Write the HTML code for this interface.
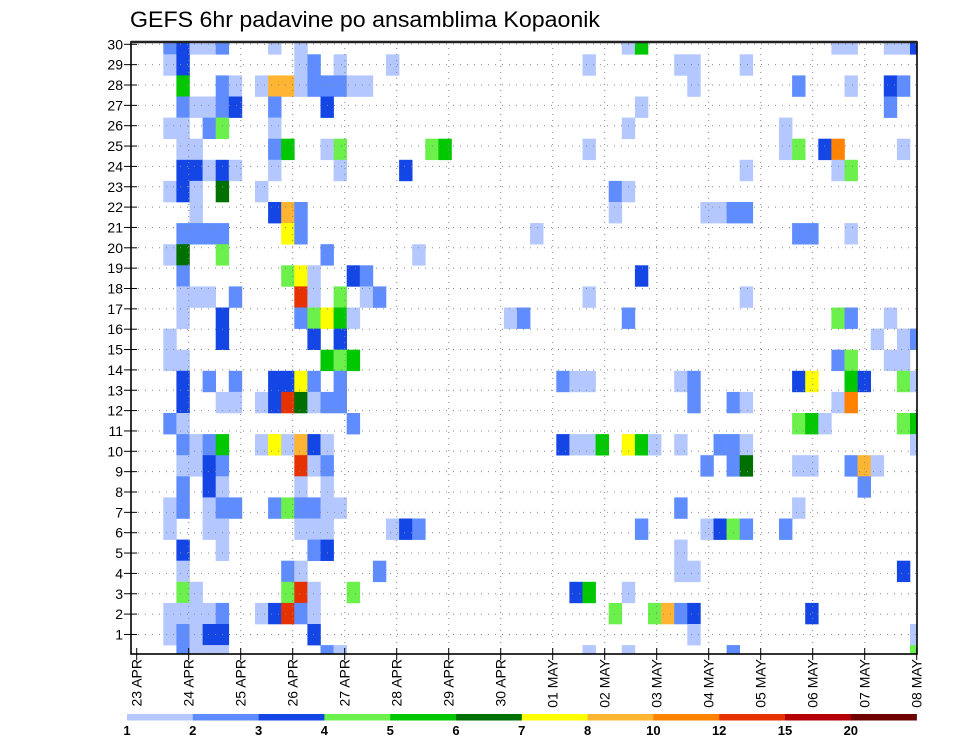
<!DOCTYPE html>
<html><head><meta charset="utf-8"><style>
html,body{margin:0;padding:0;background:#fff;}
svg{display:block;font-family:"Liberation Sans","DejaVu Sans",sans-serif;}
</style></head><body>
<svg id="chart" width="960" height="742" viewBox="0 0 960 742">
<text x="130" y="27" font-size="22" textLength="470" lengthAdjust="spacingAndGlyphs" fill="#000">GEFS 6hr padavine po ansamblima Kopaonik</text>
<g id="cells"></g>
<g id="grid"></g>
<g id="axes"></g>
<g id="legend"></g>
</svg>
<script>
// ---- data ----
const dayLabels = ["23 APR","24 APR","25 APR","26 APR","27 APR","28 APR","29 APR","30 APR","01 MAY","02 MAY","03 MAY","04 MAY","05 MAY","06 MAY","07 MAY","08 MAY"];
const yTickLabels = [1,2,3,4,5,6,7,8,9,10,11,12,13,14,15,16,17,18,19,20,21,22,23,24,25,26,27,28,29,30];
const legendLabels = ["1","2","3","4","5","6","7","8","10","12","15","20"];
const levelValues = [1.5,2.5,3.5,4.5,5.5,6.5,7.5,9,11,13.5,17.5,25];
const levelColors = ["#b4c8ff","#5f8cff","#1446e6","#6cf04c","#00c800","#007000","#ffff00","#ffb432","#ff8200","#e63200","#b40000","#6e0000"];
// members top (row 0) to bottom; "step:value(mm)"
const memberRows = [
"2:2.5 3:3.5 4:1.5 5:1.5 6:2.5 10:1.5 12:1.5 37:1.5 38:5.5 53:1.5 54:1.5 57:1.5 58:1.5 59:3.5",
"2:1.5 3:3.5 12:1.5 13:2.5 15:1.5 19:1.5 34:1.5 41:1.5 42:1.5 46:1.5",
"3:5.5 6:2.5 7:1.5 9:1.5 10:9 11:9 12:1.5 13:2.5 14:2.5 15:2.5 16:1.5 17:1.5 42:1.5 50:2.5 54:1.5 57:3.5 58:2.5",
"3:2.5 4:1.5 5:1.5 6:2.5 7:3.5 10:2.5 14:3.5 38:1.5 57:2.5",
"2:1.5 3:1.5 5:2.5 6:4.5 10:1.5 37:1.5 49:1.5",
"3:1.5 4:1.5 10:2.5 11:5.5 14:1.5 15:4.5 22:4.5 23:5.5 34:1.5 49:1.5 50:4.5 52:3.5 53:11 58:1.5",
"3:3.5 4:3.5 5:1.5 6:3.5 7:1.5 10:1.5 15:1.5 20:3.5 46:1.5 53:1.5 54:4.5",
"2:1.5 3:3.5 4:1.5 6:6.5 9:1.5 36:2.5 37:1.5",
"4:1.5 10:3.5 11:9 12:2.5 36:1.5 43:1.5 44:1.5 45:2.5 46:2.5",
"3:2.5 4:2.5 5:2.5 6:2.5 11:7.5 12:2.5 30:1.5 50:2.5 51:2.5 54:1.5",
"2:1.5 3:6.5 6:4.5 14:2.5 21:1.5",
"3:2.5 11:4.5 12:7.5 13:1.5 16:3.5 17:2.5 38:3.5",
"3:1.5 4:1.5 5:1.5 7:2.5 12:13.5 13:1.5 15:4.5 17:1.5 18:2.5 34:1.5 46:1.5",
"3:1.5 6:3.5 12:2.5 13:4.5 14:7.5 15:5.5 16:1.5 28:1.5 29:2.5 37:2.5 53:4.5 54:2.5 57:1.5",
"2:1.5 6:3.5 13:3.5 15:3.5 56:1.5 58:1.5 59:2.5",
"2:1.5 3:1.5 14:5.5 15:4.5 16:5.5 53:2.5 54:4.5 57:1.5 58:1.5",
"3:3.5 5:2.5 7:2.5 10:3.5 11:3.5 12:7.5 13:2.5 15:2.5 32:2.5 33:1.5 34:1.5 41:1.5 42:2.5 50:3.5 51:7.5 54:5.5 55:3.5 58:4.5 59:1.5",
"3:3.5 6:1.5 7:1.5 9:1.5 10:3.5 11:13.5 12:6.5 13:1.5 14:2.5 15:2.5 42:2.5 45:2.5 46:1.5 53:1.5 54:11",
"2:2.5 3:1.5 16:2.5 50:4.5 51:5.5 52:1.5 58:4.5 59:5.5",
"3:2.5 4:1.5 5:2.5 6:5.5 9:1.5 10:7.5 11:1.5 12:9 13:3.5 14:1.5 32:3.5 33:1.5 34:1.5 35:5.5 37:7.5 38:5.5 39:1.5 41:1.5 44:2.5 45:2.5 46:1.5 59:1.5",
"3:1.5 4:1.5 5:3.5 6:2.5 12:13.5 13:1.5 14:2.5 43:2.5 45:2.5 46:6.5 50:1.5 51:1.5 54:2.5 55:9 56:1.5",
"3:2.5 5:3.5 6:1.5 12:1.5 14:1.5 55:2.5",
"2:1.5 3:2.5 5:1.5 6:2.5 7:2.5 10:2.5 11:4.5 12:2.5 13:2.5 14:1.5 15:1.5 41:2.5 50:1.5",
"2:1.5 5:1.5 6:1.5 12:1.5 13:1.5 14:1.5 19:1.5 20:3.5 21:2.5 38:2.5 43:1.5 44:3.5 45:4.5 46:2.5 49:2.5",
"3:3.5 6:1.5 13:2.5 14:3.5 41:1.5",
"3:1.5 11:2.5 12:1.5 18:2.5 41:1.5 42:1.5 58:3.5",
"3:4.5 4:1.5 11:4.5 12:13.5 13:1.5 16:4.5 33:3.5 34:5.5 37:1.5",
"2:1.5 3:1.5 4:1.5 5:1.5 6:2.5 9:1.5 10:3.5 11:13.5 12:2.5 13:1.5 36:4.5 39:4.5 40:9 41:2.5 42:3.5 51:3.5",
"2:1.5 3:2.5 4:1.5 5:3.5 6:3.5 13:3.5 42:1.5 59:1.5",
"3:2.5 4:1.5 5:1.5 6:1.5 14:2.5 15:1.5 34:1.5 37:1.5 45:2.5 59:4.5"
];
// ---- geometry ----
const NS="http://www.w3.org/2000/svg";
const L=131,R=917,T=42,B=654;
const cellX0=137.1, cellW=13.1, cellY0=33.2, cellH=21.1;
function xStep(k){return cellX0+cellW*k;}
function yMember(j){return cellY0+cellH*j;}
function xDay(d){return 136.7+52*d;}
function yTick(v){return 44.3+(30-v)*20.35;}
function colorFor(v){const th=[1,2,3,4,5,6,7,8,10,12,15,20];let i=-1;for(let t=0;t<th.length;t++){if(v>=th[t])i=t;}return i<0?null:levelColors[i];}
function mk(tag,attrs,parent){const e=document.createElementNS(NS,tag);for(const a in attrs)e.setAttribute(a,attrs[a]);parent.appendChild(e);return e;}
const svg=document.getElementById('chart');
const defs=mk('defs',{},svg);
const cp=mk('clipPath',{id:'plotclip'},defs);
mk('rect',{x:L,y:T,width:R-L,height:B-T},cp);
const cells=document.getElementById('cells');
cells.setAttribute('clip-path','url(#plotclip)');
memberRows.forEach((row,j)=>{
  row.split(' ').forEach(tok=>{
    const p=tok.split(':');const k=+p[0], v=+p[1];
    const c=colorFor(v); if(!c)return;
    const r=mk('rect',{x:xStep(k),y:yMember(j),width:cellW+0.3,height:cellH+0.3,fill:c},cells);
    
    
  });
});
// grid
const grid=document.getElementById('grid');
for(let d=1;d<15;d++){
  const l=mk('line',{x1:xDay(d),x2:xDay(d),y1:T,y2:B,stroke:'#888','stroke-width':1,'stroke-dasharray':'1,5'},grid);
  
  
}
yTickLabels.forEach(v=>{
  const l=mk('line',{x1:L,x2:R,y1:yTick(v),y2:yTick(v),stroke:'#888','stroke-width':1,'stroke-dasharray':'1,6'},grid);
  
  
});
// axes
const axes=document.getElementById('axes');
const frame=mk('rect',{x:L,y:T,width:R-L,height:B-T,fill:'none',stroke:'#000','stroke-width':1.6},axes);


mk('line',{x1:L,x2:R,y1:T,y2:T,stroke:'#222','stroke-width':2.5},axes);
yTickLabels.forEach(v=>{
  const y=yTick(v);
  mk('line',{x1:L-7,x2:L+6,y1:y,y2:y,stroke:'#000','stroke-width':1},axes);
  const t=mk('text',{x:L-8,y:y+5,'font-size':14,'text-anchor':'end',fill:'#000'},axes);
  t.textContent=v;
  
  
});
dayLabels.forEach((s,d)=>{
  const x=xDay(d);
  mk('line',{x1:x,x2:x,y1:B-6,y2:B+6,stroke:'#000','stroke-width':1},axes);
  const t=mk('text',{x:0,y:0,'font-size':14,'text-anchor':'end',fill:'#000',transform:`translate(${x+5},${B+5}) rotate(-90)`},axes);
  t.textContent=s;
  
  
});
// legend
const lg=document.getElementById('legend');
const lx0=127, lw=65.8;
levelColors.forEach((c,i)=>{
  const r=mk('rect',{x:lx0+lw*i,y:714,width:lw+0.3,height:6.5,fill:c},lg);
  
  
});
legendLabels.forEach((s,i)=>{
  const t=mk('text',{x:lx0+lw*i,y:735,'font-size':13,'font-weight':'bold','text-anchor':'middle',fill:'#000'},lg);
  t.textContent=s;
  
  
});
</script>
</body></html>
